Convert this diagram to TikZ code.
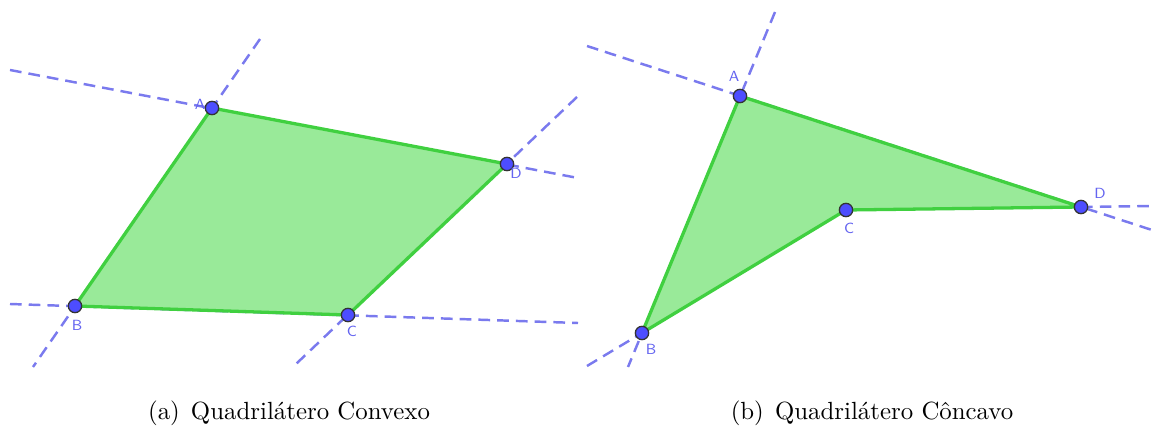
\documentclass[tikz,border=0pt]{standalone}
\usepackage{tikz}
\definecolor{ggfill}{RGB}{153,234,153}
\definecolor{ggedge}{RGB}{64,208,64}
\definecolor{ggline}{RGB}{122,122,238}
\definecolor{ggpt}{RGB}{77,77,255}
\definecolor{gglbl}{RGB}{100,100,240}
\tikzset{
  extline/.style={color=ggline, line width=1.05pt, dash pattern=on 5pt off 3pt},
  quad/.style={draw=ggedge, fill=ggfill, line width=1.4pt, line join=round},
  vert/.style={circle, draw=black!80, fill=ggpt, line width=0.55pt, inner sep=0pt, minimum size=0.2cm},
  vlabel/.style={color=gglbl, font=\fontsize{6.3}{7}\sffamily, inner sep=1pt},
  caption/.style={font=\fontsize{10.6}{12}\selectfont},
}
\begin{document}
\begin{tikzpicture}[x=0.015cm, y=-0.015cm]
\useasboundingbox (0,0) rectangle (1155,435);
% (a) convex
\coordinate (A1) at (212,108);
\coordinate (B1) at (75,306);
\coordinate (C1) at (348,315);
\coordinate (D1) at (507,164);
\coordinate (ad1) at (10,70);   \coordinate (ad2) at (578,178);
\coordinate (ab1) at (260,39);  \coordinate (ab2) at (33,367);
\coordinate (cd1) at (577,97);  \coordinate (cd2) at (296,364);
\coordinate (bc1) at (10,304);  \coordinate (bc2) at (578,323);
\draw[extline] (ad1) -- (ad2);
\draw[extline] (ab1) -- (ab2);
\draw[extline] (cd1) -- (cd2);
\draw[extline] (bc1) -- (bc2);
\draw[quad] (A1) -- (D1) -- (C1) -- (B1) -- cycle;
\foreach \p in {A1,B1,C1,D1} \node[vert] at (\p) {};
\node[vlabel] (lA1) at (200,104) {A};
\node[vlabel] (lD1) at (516,173) {D};
\node[vlabel] (lB1) at (77,325) {B};
\node[vlabel] (lC1) at (352,331) {C};
\node[caption] (capa) at (289,413) {(a)\hspace{0.45em}Quadril\'atero Convexo};
% (b) concave
\coordinate (A2) at (740,96);
\coordinate (B2) at (642,333);
\coordinate (C2) at (846,210);
\coordinate (D2) at (1081,207);
\coordinate (ad3) at (587,46);   \coordinate (ad4) at (1155,231);
\coordinate (ab3) at (775,12);   \coordinate (ab4) at (628,367);
\coordinate (bc3) at (587,366);
\coordinate (cd3) at (1155,206);
\draw[extline] (ad3) -- (ad4);
\draw[extline] (ab3) -- (ab4);
\draw[extline] (bc3) -- (B2);
\draw[extline] (D2) -- (cd3);
\draw[quad] (A2) -- (D2) -- (C2) -- (B2) -- cycle;
\foreach \p in {A2,B2,C2,D2} \node[vert] at (\p) {};
\node[vlabel] (lA2) at (734,76) {A};
\node[vlabel] (lD2) at (1100,193) {D};
\node[vlabel] (lC2) at (849,228) {C};
\node[vlabel] (lB2) at (651,349) {B};
\node[caption] (capb) at (872,413) {(b)\hspace{0.45em}Quadril\'atero C\^oncavo};
\end{tikzpicture}
\end{document}
